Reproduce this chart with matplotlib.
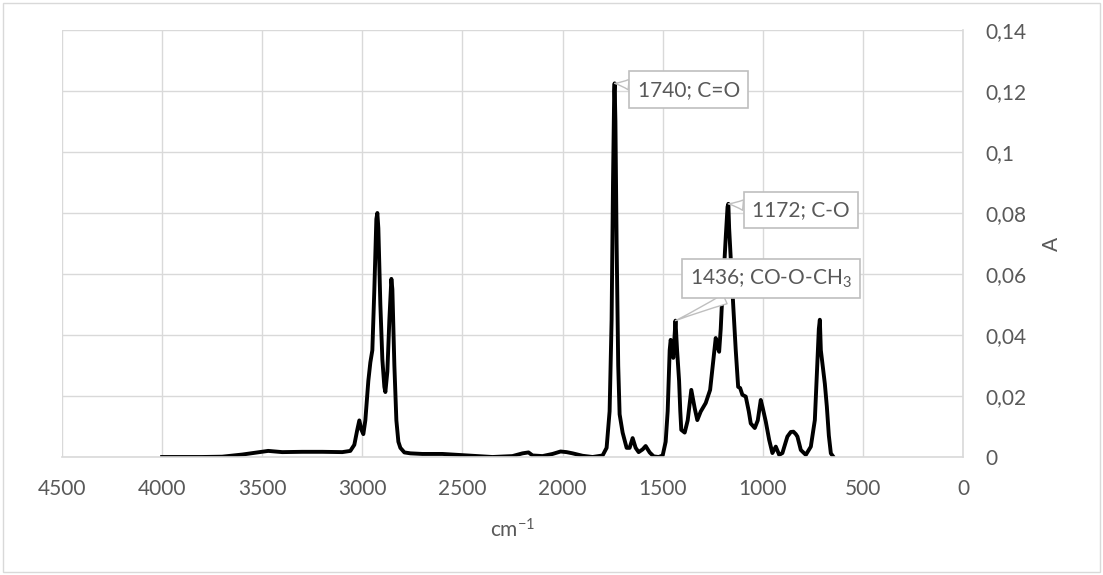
import numpy as np
import matplotlib.pyplot as plt
from matplotlib.ticker import FuncFormatter
from matplotlib.patches import Rectangle

# IR spectrum (wavenumber in cm-1, absorbance A)
wavenumber = np.array([
    4000, 3800, 3700, 3600, 3500, 3470, 3400, 3300, 3200, 3100,
    3060, 3040, 3025, 3015, 3005, 2995, 2985, 2970, 2960, 2950,
    2940, 2930, 2925, 2920, 2910, 2900, 2890, 2885, 2875, 2865,
    2855, 2850, 2840, 2830, 2820, 2810, 2790, 2760, 2700, 2600,
    2500, 2400, 2350, 2250, 2200, 2170, 2150, 2100, 2050, 2010,
    1980, 1950, 1900, 1850, 1800, 1780, 1765, 1755, 1748, 1742,
    1740, 1736, 1730, 1722, 1715, 1700, 1680, 1665, 1650, 1635,
    1620, 1600, 1585, 1565, 1545, 1520, 1500, 1485, 1475, 1465,
    1460, 1452, 1447, 1440, 1436, 1428, 1418, 1412, 1407, 1390,
    1375, 1357, 1340, 1327, 1310, 1285, 1263, 1250, 1235, 1225,
    1218, 1210, 1205, 1195, 1185, 1176, 1172, 1168, 1160, 1147,
    1135, 1123, 1113, 1102, 1085, 1070, 1060, 1040, 1025, 1010,
    1000, 985, 968, 952, 935, 918, 902, 885, 877, 860,
    847, 835, 827, 810, 785, 760, 740, 728, 720, 715,
    710, 702, 690, 680, 670, 660, 650,
])
absorbance = np.array([
    0.0000, 0.0000, 0.0001, 0.0008, 0.0017, 0.0020, 0.0016, 0.0017, 0.0017, 0.0016,
    0.0020, 0.0040, 0.0090, 0.0120, 0.0090, 0.0075, 0.0120, 0.0250, 0.0310, 0.0350,
    0.0550, 0.0780, 0.0800, 0.0750, 0.0500, 0.0320, 0.0230, 0.0213, 0.0280, 0.0450,
    0.0584, 0.0550, 0.0300, 0.0120, 0.0050, 0.0030, 0.0015, 0.0012, 0.0010, 0.0010,
    0.0006, 0.0002, 0.0000, 0.0003, 0.0012, 0.0015, 0.0005, 0.0003, 0.0010, 0.0018,
    0.0016, 0.0012, 0.0004, 0.0000, 0.0005, 0.0030, 0.0150, 0.0450, 0.0900, 0.1200,
    0.1225, 0.1100, 0.0700, 0.0300, 0.0140, 0.0080, 0.0030, 0.0030, 0.0062, 0.0030,
    0.0016, 0.0025, 0.0036, 0.0015, 0.0002, 0.0000, 0.0005, 0.0050, 0.0150, 0.0350,
    0.0384, 0.0360, 0.0325, 0.0400, 0.0447, 0.0350, 0.0250, 0.0150, 0.0089, 0.0080,
    0.0120, 0.0220, 0.0160, 0.0121, 0.0149, 0.0177, 0.0220, 0.0300, 0.0390, 0.0360,
    0.0345, 0.0420, 0.0490, 0.0600, 0.0720, 0.0820, 0.0830, 0.0750, 0.0650, 0.0490,
    0.0350, 0.0230, 0.0226, 0.0204, 0.0198, 0.0150, 0.0110, 0.0095, 0.0120, 0.0187,
    0.0160, 0.0116, 0.0056, 0.0013, 0.0034, 0.0007, 0.0013, 0.0050, 0.0067, 0.0082,
    0.0083, 0.0075, 0.0067, 0.0023, 0.0007, 0.0034, 0.0121, 0.0300, 0.0420, 0.0450,
    0.0350, 0.0307, 0.0240, 0.0165, 0.0070, 0.0012, 0.0003,
])

# peak labels: (peak position, peak height, label, label position x, y)
peak_x = [1740, 1172, 1436]
peak_y = [0.1225, 0.0830, 0.0447]
peak_text = ['1740; C=O', '1172; C-O', r'1436; CO-O-CH$_{\mathregular{3}}$']
label_x = [1370, 810, 960]
label_y = [0.1204, 0.0810, 0.0584]

x_ticks = [4500, 4000, 3500, 3000, 2500, 2000, 1500, 1000, 500, 0]
y_ticks = [0, 0.02, 0.04, 0.06, 0.08, 0.1, 0.12, 0.14]

plt.rcParams['font.family'] = ['Lato', 'DejaVu Sans']
plt.rcParams['mathtext.fontset'] = 'custom'
plt.rcParams['mathtext.rm'] = 'Lato'
plt.rcParams['mathtext.it'] = 'Lato:italic'

text_grey = '#595959'
grid_grey = '#d9d9d9'
fs = 15

fig = plt.figure(figsize=(11.03, 5.75), dpi=100)
ax = fig.add_axes([62 / 1103, 1 - 457 / 575, (963 - 62) / 1103, (457 - 30) / 575])

ax.plot(wavenumber, absorbance, color='black', linewidth=2.8, solid_joinstyle='round')

ax.set_xlim(4500, 0)
ax.set_ylim(0, 0.14)
ax.set_xticks(x_ticks)
ax.set_yticks(y_ticks)
ax.yaxis.tick_right()
ax.yaxis.set_label_position('right')
ax.yaxis.set_major_formatter(FuncFormatter(lambda v, p: ('%g' % round(v, 2)).replace('.', ',')))

ax.grid(True, color=grid_grey, linewidth=1)
ax.set_axisbelow(True)
for side in ['left', 'top']:
    ax.spines[side].set_visible(False)
for side in ['right', 'bottom']:
    ax.spines[side].set_color(grid_grey)
    ax.spines[side].set_linewidth(1.2)

ax.tick_params(axis='x', length=0, pad=16, labelsize=fs, labelcolor=text_grey)
ax.tick_params(axis='y', length=0, pad=16, labelsize=fs, labelcolor=text_grey)

ax.set_xlabel(r'cm$^{\mathregular{-1}}$', fontsize=fs, color=text_grey, labelpad=14)
ax.set_ylabel('A', fontsize=fs, color=text_grey, labelpad=11, rotation=90)

for px, py, txt, lx, ly in zip(peak_x, peak_y, peak_text, label_x, label_y):
    ax.annotate(
        txt, xy=(px, py), xytext=(lx, ly),
        ha='center', va='center', fontsize=fs, color=text_grey,
        bbox=dict(boxstyle='square,pad=0.4', fc='white', ec='#bfbfbf', lw=1.2),
        arrowprops=dict(arrowstyle='wedge,tail_width=0.5,shrink_factor=0.4',
                        fc='white', ec='#bfbfbf', lw=1.0, shrinkA=0, shrinkB=0),
        zorder=5,
    )

# chart area border
fig.patches.append(Rectangle((3 / 1103, 3 / 575), 1 - 6 / 1103, 1 - 6 / 575,
                             transform=fig.transFigure, fill=False,
                             edgecolor=grid_grey, linewidth=1))

plt.savefig('out.png', dpi=100)
